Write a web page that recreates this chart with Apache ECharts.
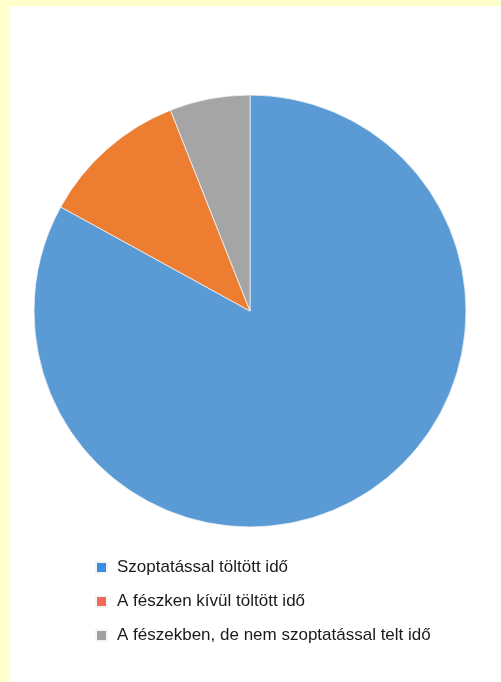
<!DOCTYPE html>
<html lang="hu">
<head>
    <meta charset="utf-8" />
    <title>Időbeosztás</title>
    <script type="text/javascript" src="https://cdn.jsdelivr.net/npm/echarts@6/dist/echarts.min.js"></script>
    <style>
        html, body { margin: 0; padding: 0; background: #ffffcc; }
        #chart { position: absolute; left: 10px; top: 6px; width: 491px; height: 676px; background: #ffffff; }
    </style>
</head>
<body>
    <div id="chart"></div>
    <script type="text/javascript">
        // kategóriák és értékek (%)
        var categories = ['Szoptatással töltött idő', 'A fészken kívül töltött idő', 'A fészekben, de nem szoptatással telt idő'];
        var values = [83, 11, 6];
        var sliceColors = ['#5b9bd5', '#ed7d31', '#a5a5a5'];
        var legendColors = ['#3a8ee8', '#ef6a5a', '#a0a0a0'];

        var chart = echarts.init(document.getElementById('chart'));

        var pieData = [];
        var legendData = [];
        for (var i = 0; i < categories.length; i++) {
            pieData.push({ name: categories[i], value: values[i], itemStyle: { color: sliceColors[i] } });
            legendData.push({ name: categories[i], itemStyle: { color: legendColors[i] } });
        }

        chart.setOption({
            animation: false,
            legend: {
                orient: 'vertical',
                left: 85,
                top: 553,
                padding: 0,
                icon: 'rect',
                itemWidth: 11,
                itemHeight: 11,
                itemGap: 17,
                textStyle: { fontFamily: 'Liberation Sans, Arial, sans-serif', fontSize: 17, color: '#1a1a1a', lineHeight: 17, padding: [0, 0, 0, 5] },
                data: legendData
            },
            series: [{
                type: 'pie',
                center: [240, 305],
                radius: 216,
                startAngle: 90,
                clockwise: true,
                label: { show: false },
                labelLine: { show: false },
                emphasis: { disabled: true },
                itemStyle: { borderColor: '#f4f4f4', borderWidth: 0.8 },
                data: pieData
            }]
        });
    </script>
</body>
</html>
